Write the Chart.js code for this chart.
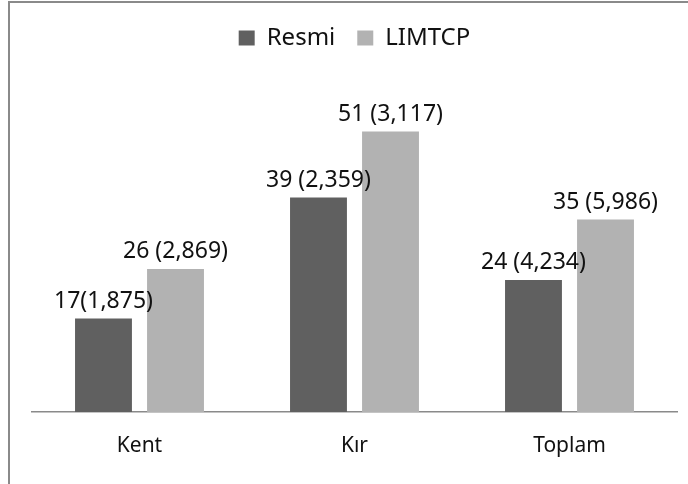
<!DOCTYPE html>
<html>
<head>
<meta charset="utf-8">
<script src="https://cdn.jsdelivr.net/npm/chart.js@4"></script>
<style>
    html, body { margin: 0; padding: 0; background: #fff; }
    .frame {
        position: absolute; left: 8px; top: 1px; width: 690px; height: 490px;
        border-left: 2px solid #8a8a8a; border-top: 2px solid #8a8a8a;
    }
    .wrap { position: absolute; left: 0; top: 0; width: 688px; height: 484px; }
</style>
</head>
<body>
<div class="frame"></div>
<div class="wrap"><canvas id="chart" width="688" height="484"></canvas></div>
<script>
const categories = ["Kent", "Kır", "Toplam"];
const resmiValues = [17, 39, 24];
const limtcpValues = [26, 51, 35];
const resmiLabels = ["17(1,875)", "39 (2,359)", "24 (4,234)"];
const limtcpLabels = ["26 (2,869)", "51 (3,117)", "35 (5,986)"];

const FONT = "'Noto Sans', 'Open Sans', sans-serif";

// draws the value text above each bar
const barLabels = {
    id: "barLabels",
    afterDatasetsDraw: function(chart) {
        const ctx = chart.ctx;
        ctx.save();
        ctx.font = "23px " + FONT;
        ctx.fillStyle = "#111";
        ctx.textAlign = "center";
        ctx.textBaseline = "alphabetic";
        chart.data.datasets.forEach((ds, i) => {
            chart.getDatasetMeta(i).data.forEach((bar, j) => {
                ctx.fillText(ds.texts[j], bar.x, bar.y - 11);
            });
        });
        ctx.restore();
    }
};

new Chart(document.getElementById("chart"), {
    type: "bar",
    data: {
        labels: categories,
        datasets: [{
            label: "Resmi",
            data: resmiValues,
            texts: resmiLabels,
            backgroundColor: "#606060"
        }, {
            label: "LIMTCP",
            data: limtcpValues,
            texts: limtcpLabels,
            backgroundColor: "#b2b2b2"
        }]
    },
    options: {
        responsive: false,
        animation: false,
        categoryPercentage: 0.67,
        barPercentage: 0.79,
        layout: { padding: { left: 32, right: 11, top: 4, bottom: 0 } },
        plugins: {
            legend: {
                labels: {
                    font: { size: 24, family: FONT },
                    color: "#111",
                    boxWidth: 16,
                    boxHeight: 15,
                    padding: 22
                }
            },
            tooltip: { enabled: false }
        },
        scales: {
            x: {
                grid: { display: false },
                border: { display: true, color: "#8a8a8a", width: 1.5 },
                ticks: { font: { size: 21, family: FONT }, color: "#111", padding: 13 },
                afterFit: (scale) => { scale.height = 72; }
            },
            y: {
                display: false,
                min: 0,
                max: 64
            }
        }
    },
    plugins: [barLabels]
});
</script>
</body>
</html>
